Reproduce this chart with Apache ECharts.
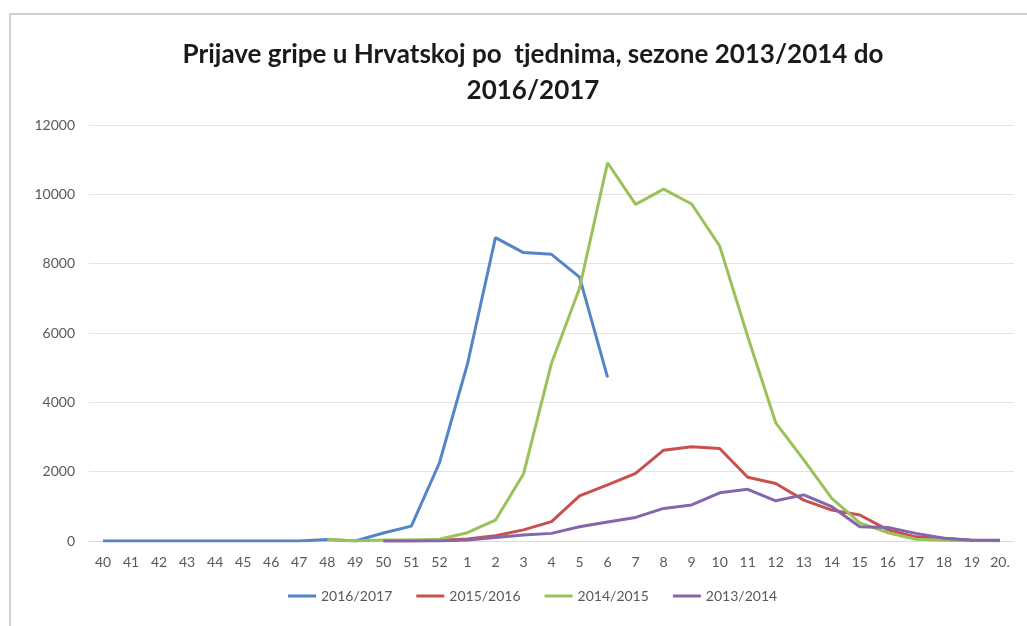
<!DOCTYPE html>
<html>
<head>
<meta charset="utf-8">
<script src="https://cdn.jsdelivr.net/npm/echarts@6/dist/echarts.min.js"></script>
<style>
html, body { margin: 0; padding: 0; background: #fff; }
#container { width: 1027px; height: 626px; }
</style>
</head>
<body>
<div id="container"></div>
<script>
var weeks = ['40', '41', '42', '43', '44', '45', '46', '47', '48', '49', '50', '51', '52',
    '1', '2', '3', '4', '5', '6', '7', '8', '9', '10', '11', '12', '13', '14', '15', '16',
    '17', '18', '19', '20.'];
// sezona 2016/2017 - do 6. tjedna
var s2016 = [0, 0, 0, 0, 0, 0, 0, 0, 40, 0, 230, 430, 2250,
    5100, 8750, 8320, 8270, 7610, 4720];
var s2015 = [null, null, null, null, null, null, null, null, null, null, 0, 0, 20,
    60, 150, 320, 560, 1300, 1620, 1950, 2620, 2720, 2670, 1840, 1660, 1180, 890, 750, 320,
    120, 80, 20, 10];
var s2014 = [null, null, null, null, null, null, null, null, 50, 0, 30, 30, 50,
    240, 600, 1930, 5130, 7290, 10910, 9710, 10150, 9720, 8510, 5900, 3410, 2340, 1230, 520, 240,
    50, 20, 10, 10];
var s2013 = [null, null, null, null, null, null, null, null, null, null, 0, 0, 0,
    30, 100, 170, 220, 410, 550, 680, 940, 1040, 1390, 1490, 1160, 1330, 990, 410, 390,
    220, 80, 20, 20];
var seasonNames = ['2016/2017', '2015/2016', '2014/2015', '2013/2014'];
var seasonColors = ['#5585c5', '#c9504c', '#9bc25a', '#8466ac'];
var seasonData = [s2016, s2015, s2014, s2013];

var myChart = echarts.init(document.getElementById('container'));

var series = [];
for (var i = 0; i < seasonNames.length; i++) {
    series.push({
        name: seasonNames[i],
        type: 'line',
        data: seasonData[i],
        symbol: 'none',
        connectNulls: false,
        lineStyle: { width: 3, color: seasonColors[i] },
        itemStyle: { color: seasonColors[i] }
    });
}

option = {
    backgroundColor: '#fff',
    textStyle: { fontFamily: 'Lato' },
    graphic: [{
        type: 'rect',
        shape: { x: 10, y: 14, width: 1030, height: 640 },
        style: { fill: 'none', stroke: '#d0d0d0', lineWidth: 2 },
        silent: true
    }],
    title: {
        text: 'Prijave gripe u Hrvatskoj po  tjednima, sezone 2013/2014 do\n2016/2017',
        left: 528,
        textAlign: 'center',
        top: 32,
        textStyle: {
            fontFamily: 'Lato',
            fontWeight: 'bold',
            fontSize: 26,
            color: '#1a1a1a',
            lineHeight: 36
        }
    },
    legend: {
        data: seasonNames,
        bottom: 18,
        left: 283,
        icon: 'rect',
        itemWidth: 28,
        itemHeight: 3,
        itemGap: 24,
        textStyle: { fontSize: 14, color: '#595959', fontFamily: 'Lato' }
    },
    grid: {
        left: 89,
        right: 13,
        top: 125,
        bottom: 85
    },
    xAxis: {
        type: 'category',
        data: weeks,
        boundaryGap: true,
        axisLine: { show: true, lineStyle: { color: '#d9d9d9', width: 1 } },
        axisTick: { show: false },
        axisLabel: { fontSize: 14, color: '#595959', margin: 14 }
    },
    yAxis: {
        type: 'value',
        min: 0,
        max: 12000,
        interval: 2000,
        axisLine: { show: false },
        axisTick: { show: false },
        axisLabel: {
            fontSize: 14,
            color: '#595959',
            margin: 14,
            formatter: function (value) {
                return String(value);
            }
        },
        splitLine: { lineStyle: { color: '#e3e3e3', width: 1 } }
    },
    series: series
};

myChart.setOption(option);
</script>
</body>
</html>
